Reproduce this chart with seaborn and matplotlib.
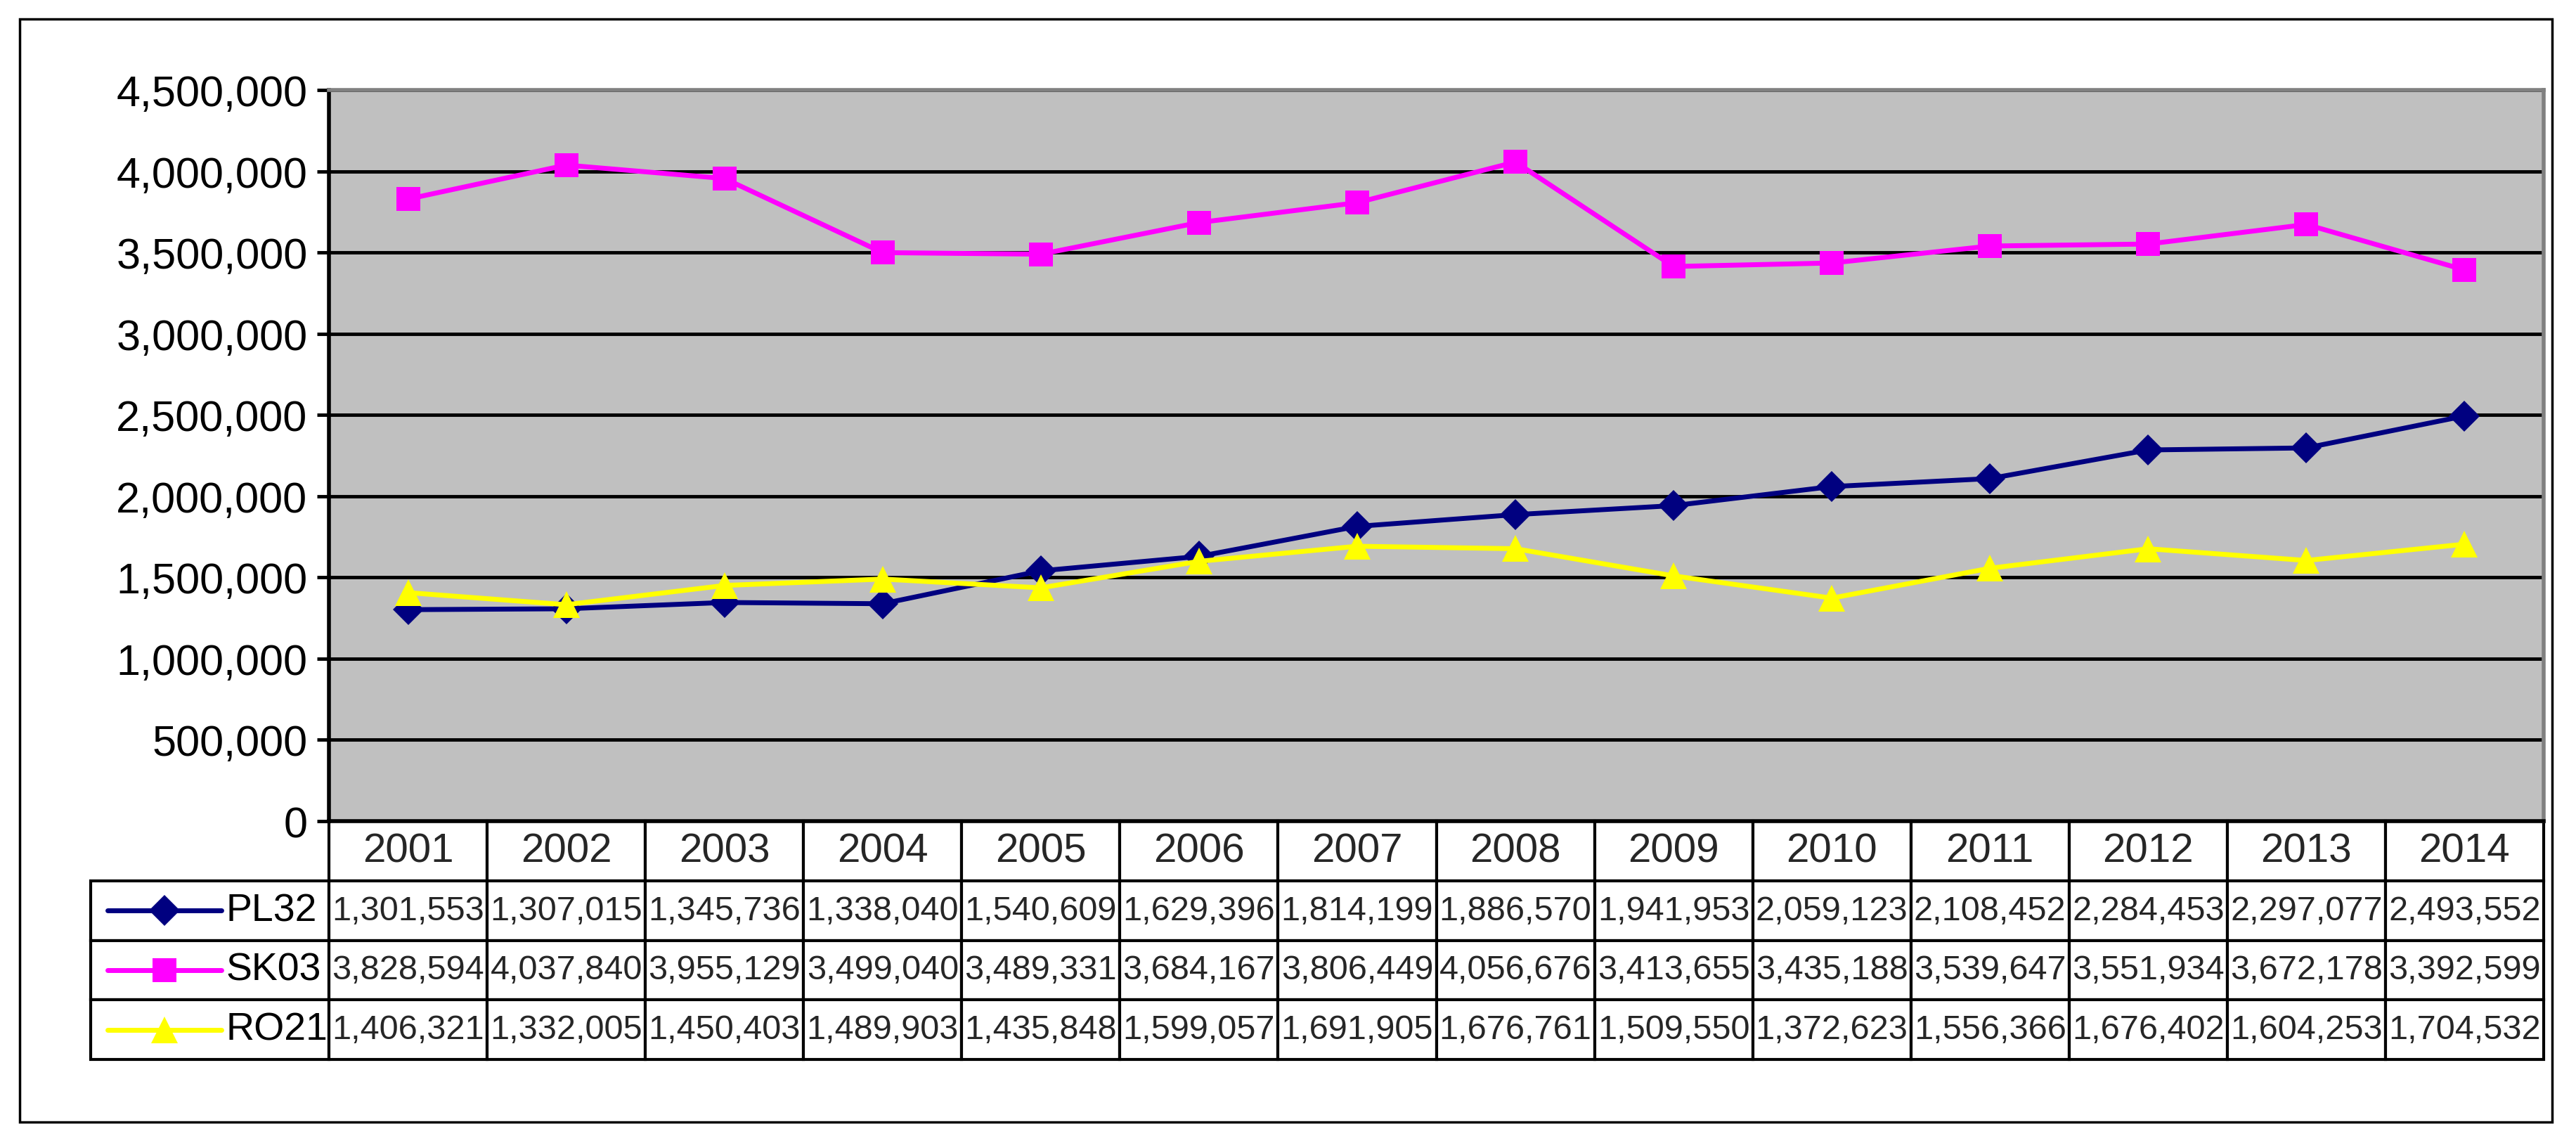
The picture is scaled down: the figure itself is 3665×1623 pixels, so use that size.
import numpy as np
import pandas as pd
import seaborn as sns
import matplotlib.pyplot as plt
from matplotlib import colors as mcolors
from matplotlib.lines import Line2D
from matplotlib.patches import Rectangle

years = list(range(2001, 2015))
series_names = ["PL32", "SK03", "RO21"]
pl32 = [1301553, 1307015, 1345736, 1338040, 1540609, 1629396, 1814199,
        1886570, 1941953, 2059123, 2108452, 2284453, 2297077, 2493552]
sk03 = [3828594, 4037840, 3955129, 3499040, 3489331, 3684167, 3806449,
        4056676, 3413655, 3435188, 3539647, 3551934, 3672178, 3392599]
ro21 = [1406321, 1332005, 1450403, 1489903, 1435848, 1599057, 1691905,
        1676761, 1509550, 1372623, 1556366, 1676402, 1604253, 1704532]
y_ticks = list(range(0, 4500001, 500000))

colors = {"PL32": "#000080", "SK03": "#FF00FF", "RO21": "#FFFF00"}
markers = {"PL32": "D", "SK03": "s", "RO21": "^"}
msizes = {"PL32": 22, "SK03": 25, "RO21": 28}

sns.set_theme(style="white")
plt.rcParams["font.family"] = ["Liberation Sans", "DejaVu Sans"]

df = pd.DataFrame({
    "year": years * 3,
    "series": np.repeat(series_names, len(years)),
    "value": pl32 + sk03 + ro21,
})

W, H = 3666, 1624
fig = plt.figure(figsize=(W / 100, H / 100), dpi=100)
ax = fig.add_axes([468 / W, 1 - 1169 / H, 3151 / W, 1040 / H])
ax.set_facecolor("#C0C0C0")

sns.lineplot(data=df, x="year", y="value", hue="series", style="series",
             markers=markers, dashes=False, palette=colors,
             legend=False, ax=ax)
# thicker lines / bigger markers, matched by colour
for line in ax.lines:
    for name in series_names:
        if mcolors.same_color(line.get_color(), colors[name]):
            line.set_linewidth(5)
            line.set_markersize(msizes[name])
            line.set_markeredgewidth(0)
            line.set_markerfacecolor(colors[name])

ax.set_xlim(2000.5, 2014.5)
ax.set_ylim(0, 4500000)
ax.set_yticks(y_ticks)
ax.set_yticklabels([f"{v:,}" for v in y_ticks])
ax.set_xticks([])
ax.set_xlabel("")
ax.set_ylabel("")
ax.yaxis.grid(True, color="black", linewidth=3.5)
ax.set_axisbelow(True)
ax.tick_params(axis="y", left=True, direction="out", length=12, width=3.5,
               labelsize=44, pad=10, labelcolor="black", color="black")
for side in ["left", "bottom"]:
    ax.spines[side].set_color("black")
    ax.spines[side].set_linewidth(4)
for side in ["top", "right"]:
    ax.spines[side].set_color("#808080")
    ax.spines[side].set_linewidth(4)

# data table under the plot
leg_w = 339 / 3151
tab_h = 339 / 1040
cell_text = [[""] + [str(y) for y in years]]
for vals in (pl32, sk03, ro21):
    cell_text.append([""] + [f"{v:,}" for v in vals])
tbl = ax.table(cellText=cell_text, colWidths=[leg_w] + [1 / 14] * 14,
               cellLoc="center", bbox=[-leg_w, -tab_h, 1 + leg_w, tab_h])
tbl.auto_set_font_size(False)
for (r, c), cell in tbl.get_celld().items():
    cell.set_linewidth(3)
    cell.set_edgecolor("black")
    cell.set_facecolor("white")
    cell.PAD = 0.0
    cell.get_text().set_fontsize(42 if r == 0 else 35)
tbl[0, 0].visible_edges = ""

# legend keys in the first column
for i, name in enumerate(series_names):
    y = -(i + 1.5) * tab_h / 4
    ax.add_line(Line2D([-0.100, -0.0486], [y, y], transform=ax.transAxes,
                       color=colors[name], linewidth=5, clip_on=False))
    ax.add_line(Line2D([-0.0743], [y], transform=ax.transAxes, marker=markers[name],
                       markersize=msizes[name], color=colors[name],
                       markeredgewidth=0, linestyle="none", clip_on=False))
    ax.text(-0.0465, y, name, transform=ax.transAxes, ha="left", va="center",
            fontsize=40, color="black")

fig.add_artist(Rectangle((28 / W, 1 - 1597 / H), (3631 - 28) / W, (1597 - 28) / H,
                         transform=fig.transFigure, fill=False,
                         edgecolor="black", linewidth=2.5))

fig.savefig("out.png", dpi=100)
